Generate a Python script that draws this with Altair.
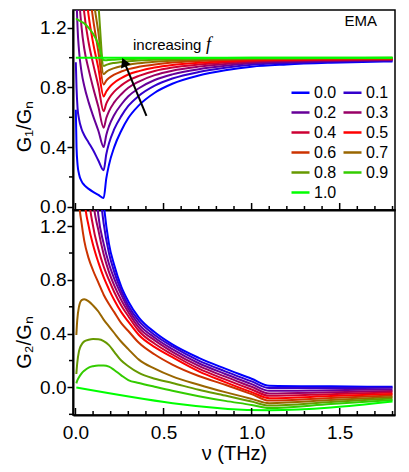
import altair as alt
import pandas as pd

F_LABELS = ["0.0", "0.1", "0.2", "0.3", "0.4", "0.5", "0.6", "0.7", "0.8", "0.9", "1.0"]
COLORS = ["#0000ff", "#3300cc", "#660099", "#990066", "#cc0033", "#ff0000",
          "#cc3300", "#996600", "#669900", "#33cc00", "#00ff00"]
# legend reads row by row: 0.0 0.1 / 0.2 0.3 / ... (Vega fills column by column)
LEGEND_ORDER = ["0.0", "0.2", "0.4", "0.6", "0.8", "1.0", "0.1", "0.3", "0.5", "0.7", "0.9"]

# ---- top panel: G1/Gn ----
G1_X = [0.002, 0.006, 0.012, 0.02, 0.035, 0.05, 0.075, 0.1, 0.13, 0.16, 0.175, 0.19,
        0.22, 0.26, 0.3, 0.36, 0.45, 0.55, 0.7, 0.85, 1.0, 1.2, 1.45, 1.8]
G1_Y = {
    "0.0": [0.65, 0.40, 0.28, 0.22, 0.17, 0.145, 0.12, 0.10, 0.08, 0.058, 0.19, 0.28, 0.40, 0.51, 0.595, 0.68, 0.765, 0.825, 0.88, 0.915, 0.94, 0.955, 0.966, 0.975],
    "0.1": [0.97, 0.80, 0.66, 0.59, 0.52, 0.48, 0.43, 0.38, 0.31, 0.245, 0.352, 0.424, 0.52, 0.608, 0.676, 0.744, 0.812, 0.86, 0.904, 0.932, 0.952, 0.964, 0.973, 0.98],
    "0.2": [1.9, 1.45, 1.2, 1.05, 0.90, 0.81, 0.70, 0.61, 0.51, 0.40, 0.482, 0.539, 0.616, 0.686, 0.741, 0.795, 0.85, 0.888, 0.923, 0.946, 0.962, 0.971, 0.978, 0.984],
    "0.3": [3.0, 2.2, 1.75, 1.45, 1.2, 1.06, 0.92, 0.80, 0.67, 0.53, 0.595, 0.64, 0.70, 0.755, 0.798, 0.84, 0.883, 0.913, 0.94, 0.958, 0.97, 0.978, 0.983, 0.988],
    "0.4": [4.0, 3.0, 2.3, 1.9, 1.5, 1.3, 1.1, 0.96, 0.81, 0.64, 0.692, 0.726, 0.772, 0.814, 0.846, 0.878, 0.911, 0.934, 0.954, 0.968, 0.977, 0.983, 0.987, 0.99],
    "0.5": [5.0, 3.8, 3.0, 2.4, 1.8, 1.55, 1.28, 1.10, 0.93, 0.74, 0.773, 0.798, 0.832, 0.863, 0.887, 0.91, 0.934, 0.951, 0.966, 0.976, 0.983, 0.987, 0.99, 0.993],
    "0.6": [6.0, 4.5, 3.5, 2.9, 2.2, 1.85, 1.5, 1.26, 1.04, 0.82, 0.846, 0.863, 0.886, 0.907, 0.923, 0.939, 0.955, 0.967, 0.977, 0.984, 0.989, 0.991, 0.994, 0.995],
    "0.7": [7.0, 5.5, 4.2, 3.4, 2.6, 2.2, 1.75, 1.42, 1.17, 0.89, 0.905, 0.916, 0.93, 0.943, 0.953, 0.963, 0.973, 0.98, 0.986, 0.99, 0.993, 0.995, 0.996, 0.997],
    "0.8": [8.0, 6.5, 5.0, 4.0, 3.2, 2.7, 2.2, 1.8, 1.36, 0.945, 0.952, 0.958, 0.965, 0.971, 0.976, 0.981, 0.986, 0.99, 0.993, 0.995, 0.996, 0.997, 0.998, 0.999],
    "0.9": [1.26, 1.26, 1.255, 1.25, 1.24, 1.23, 1.20, 1.16, 1.09, 0.985, 0.983, 0.985, 0.987, 0.99, 0.991, 0.993, 0.995, 0.996, 0.997, 0.998, 0.999, 0.999, 0.999, 1.0],
}
G1_X_F10 = [0.002, 1.8]
G1_Y_F10 = [1.0, 1.0]

# ---- bottom panel: G2/Gn ----
G2_X = [0.005, 0.01, 0.02, 0.035, 0.05, 0.075, 0.1, 0.13, 0.16, 0.19, 0.22, 0.26,
        0.3, 0.36, 0.45, 0.55, 0.7, 0.85, 1.0, 1.1, 1.45, 1.8]
G2_Y = {
    "0.0": [60, 30, 16, 9, 6.5, 4.3, 3.2, 2.0, 1.38, 1.07, 0.91, 0.75, 0.64, 0.52, 0.41, 0.32, 0.22, 0.14, 0.065, 0.013, 0.008, 0.005],
    "0.1": [50, 25, 13, 7.5, 5, 3.2, 2.3, 1.6, 1.22, 1.0, 0.86, 0.72, 0.61, 0.495, 0.39, 0.305, 0.2, 0.12, 0.045, -0.005, -0.004, -0.003],
    "0.2": [40, 20, 10, 6, 4, 2.5, 1.8, 1.28, 1.07, 0.92, 0.81, 0.69, 0.585, 0.47, 0.37, 0.285, 0.18, 0.10, 0.025, -0.025, -0.02, -0.015],
    "0.3": [30, 15, 8, 4.5, 3.0, 1.9, 1.4, 1.17, 0.99, 0.86, 0.76, 0.65, 0.56, 0.445, 0.35, 0.265, 0.16, 0.08, 0.005, -0.045, -0.036, -0.026],
    "0.4": [22, 11, 6, 3.2, 2.2, 1.45, 1.2, 1.03, 0.9, 0.8, 0.71, 0.61, 0.53, 0.42, 0.325, 0.245, 0.14, 0.06, -0.015, -0.062, -0.05, -0.037],
    "0.5": [15, 8, 4, 1.9, 1.42, 1.2, 1.06, 0.93, 0.82, 0.73, 0.65, 0.56, 0.49, 0.39, 0.30, 0.225, 0.12, 0.04, -0.035, -0.08, -0.064, -0.048],
    "0.6": [3.2, 2.2, 1.4, 1.22, 1.09, 0.96, 0.87, 0.78, 0.69, 0.62, 0.56, 0.478, 0.42, 0.332, 0.245, 0.17, 0.085, 0.02, -0.05, -0.098, -0.079, -0.06],
    "0.7": [0.39, 0.5, 0.6, 0.65, 0.656, 0.64, 0.61, 0.565, 0.505, 0.455, 0.405, 0.34, 0.285, 0.207, 0.14, 0.082, 0.02, -0.035, -0.085, -0.117, -0.094, -0.071],
    "0.8": [0.10, 0.18, 0.27, 0.32, 0.343, 0.355, 0.36, 0.358, 0.345, 0.315, 0.265, 0.2, 0.158, 0.108, 0.065, 0.033, -0.017, -0.06, -0.105, -0.135, -0.108, -0.082],
    "0.9": [0.03, 0.05, 0.075, 0.105, 0.125, 0.148, 0.158, 0.163, 0.163, 0.155, 0.13, 0.09, 0.055, 0.033, 0.005, -0.025, -0.065, -0.1, -0.13, -0.153, -0.123, -0.094],
}
G2_X_F10 = [0.005, 1.1, 1.8]
G2_Y_F10 = [0.0, -0.17, -0.105]

X_MAJOR = [0.0, 0.5, 1.0, 1.5]
X_MINOR = [0.1, 0.2, 0.3, 0.4, 0.6, 0.7, 0.8, 0.9, 1.1, 1.2, 1.3, 1.4, 1.6, 1.7, 1.8]
Y_MAJOR = [0.0, 0.4, 0.8, 1.2]
Y1_MINOR = [0.2, 0.6, 1.0]
Y2_MINOR = [-0.2, 0.2, 0.6, 1.0]

ARROW = {"x": [0.403], "y": [0.609], "x2": [0.279], "y2": [0.965]}
ARROW_HEAD = {"x": [0.276], "y": [0.97]}

# ---- build tables ----
def long_table(xs, ys_by_f, x_last, y_last):
    rows = []
    for f in F_LABELS[:-1]:
        for x, y in zip(xs, ys_by_f[f]):
            rows.append({"x": x, "y": y, "f": f})
    for x, y in zip(x_last, y_last):
        rows.append({"x": x, "y": y, "f": "1.0"})
    return pd.DataFrame(rows)

df1 = long_table(G1_X, G1_Y, G1_X_F10, G1_Y_F10)
df2 = long_table(G2_X, G2_Y, G2_X_F10, G2_Y_F10)

W = 322
H1 = 200
H2 = 205
xscale = alt.Scale(domain=[-0.014, 1.814], nice=False, zero=False)
y1scale = alt.Scale(domain=[-0.022, 1.32], nice=False, zero=False)
y2scale = alt.Scale(domain=[-0.205, 1.32], nice=False, zero=False)

color = alt.Color(
    "f:N",
    scale=alt.Scale(domain=F_LABELS, range=COLORS),
    legend=alt.Legend(
        title=None, orient="none", legendX=217, legendY=72, columns=2, values=LEGEND_ORDER,
        symbolType="stroke", symbolSize=324, symbolStrokeWidth=2.5,
        labelFontSize=16, labelFont="Liberation Sans", labelColor="black",
        rowPadding=1, columnPadding=1, labelOffset=3, padding=0,
    ),
)

def tick_layers(height, yscale, yminor):
    major = alt.Chart(pd.DataFrame({"x": X_MAJOR})).mark_rule(color="black", strokeWidth=1.5).encode(
        x=alt.X("x:Q", scale=xscale), y=alt.value(height), y2=alt.value(height - 7))
    minor = alt.Chart(pd.DataFrame({"x": X_MINOR})).mark_rule(color="black", strokeWidth=1.5).encode(
        x=alt.X("x:Q", scale=xscale), y=alt.value(height), y2=alt.value(height - 4))
    ymin = alt.Chart(pd.DataFrame({"y": yminor})).mark_rule(color="black", strokeWidth=1.5).encode(
        y=alt.Y("y:Q", scale=yscale), x=alt.value(0), x2=alt.value(-4))
    return [major, minor, ymin]

yaxis_common = dict(values=Y_MAJOR, format=".1f", tickSize=6, labelPadding=1, titlePadding=5, grid=False)

lines1 = alt.Chart(df1).mark_line(clip=True, strokeWidth=2, interpolate="monotone").encode(
    x=alt.X("x:Q", scale=xscale, axis=alt.Axis(labels=False, ticks=False, title="", grid=False)),
    y=alt.Y("y:Q", scale=y1scale, axis=alt.Axis(title="G₁/Gₙ", titleY=116, **yaxis_common)),
    color=color,
)

ema = alt.Chart(pd.DataFrame({"t": ["EMA"]})).mark_text(
    align="right", baseline="middle", fontSize=15, font="Liberation Sans", color="black"
).encode(text="t:N", x=alt.value(304), y=alt.value(11))
inc = alt.Chart(pd.DataFrame({"t": ["increasing"]})).mark_text(
    align="left", baseline="alphabetic", fontSize=15, font="Liberation Sans", color="black"
).encode(text="t:N", x=alt.value(60), y=alt.value(40))
fsym = alt.Chart(pd.DataFrame({"t": ["f"]})).mark_text(
    align="left", baseline="alphabetic", fontSize=18, font="Liberation Serif", fontStyle="italic", color="black"
).encode(text="t:N", x=alt.value(133), y=alt.value(40))
arrow = alt.Chart(pd.DataFrame(ARROW)).mark_rule(color="black", strokeWidth=2).encode(
    x=alt.X("x:Q", scale=xscale), y=alt.Y("y:Q", scale=y1scale),
    x2="x2:Q", y2="y2:Q")
head = alt.Chart(pd.DataFrame(ARROW_HEAD)).mark_point(
    shape="triangle-up", filled=True, size=110, angle=337, color="black", opacity=1
).encode(x=alt.X("x:Q", scale=xscale), y=alt.Y("y:Q", scale=y1scale))

top = alt.layer(lines1, *tick_layers(H1, y1scale, Y1_MINOR), arrow, head, ema, inc, fsym).properties(width=W, height=H1)

lines2 = alt.Chart(df2).mark_line(clip=True, strokeWidth=2, interpolate="monotone").encode(
    x=alt.X("x:Q", scale=xscale, axis=alt.Axis(values=X_MAJOR, format=".1f", ticks=False, tickSize=0,
                                               labelPadding=8, title="ν (THz)", titlePadding=1, grid=False)),
    y=alt.Y("y:Q", scale=y2scale, axis=alt.Axis(title="G₂/Gₙ", titleY=132, **yaxis_common)),
    color=color,
)
bottom = alt.layer(lines2, *tick_layers(H2, y2scale, Y2_MINOR)).properties(width=W, height=H2)

chart = alt.vconcat(top, bottom, spacing=0, bounds="flush").properties(
    padding={"left": 5, "top": 1, "right": 5, "bottom": 5}
).configure_axis(
    labelFont="Liberation Sans", titleFont="Liberation Sans", labelFontSize=19, titleFontSize=20,
    titleFontWeight="normal", labelColor="black", titleColor="black", domainColor="black",
    domainWidth=2, tickColor="black", tickWidth=1.5,
).configure_view(stroke="black", strokeWidth=1.5)

chart.save("out.html", embed_options={"renderer": "svg", "actions": False})
